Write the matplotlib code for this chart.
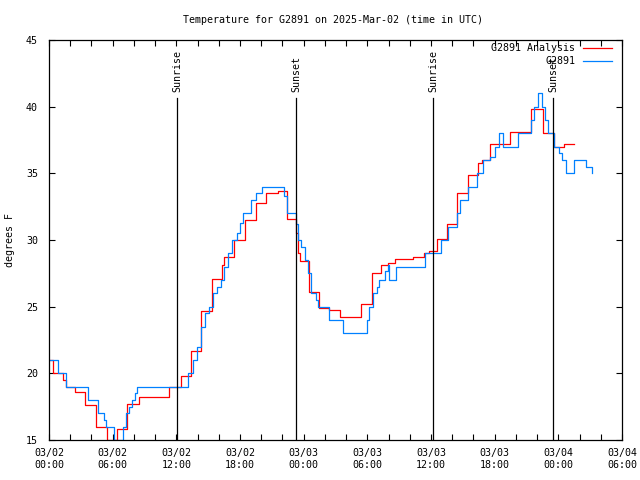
import matplotlib.pyplot as plt
from matplotlib.ticker import MultipleLocator

plt.rcParams['font.family'] = 'DejaVu Sans Mono'
plt.rcParams['font.size'] = 7.2

# hours since 03/02 00:00 UTC, temperature in F (values hold until the next time)
obs_hours = [0.0, 0.82, 1.6, 3.68, 4.65, 5.18, 5.37, 6.13, 6.97, 7.26, 7.54, 7.82, 8.1, 8.29,
             13.1, 13.57, 13.95, 14.33, 14.7, 15.08, 15.46, 15.83, 16.21, 16.49, 16.87, 17.25,
             17.72, 18.0, 18.28, 19.04, 19.5, 20.08, 22.15, 22.43, 23.28, 23.47, 23.75, 24.13,
             24.41, 24.69, 25.16, 25.35, 26.39, 27.71, 29.97, 30.16, 30.54, 30.91, 31.1, 31.67,
             31.95, 32.05, 32.7, 35.44, 36.95, 37.6, 38.45, 38.74, 39.5, 40.34, 40.6, 40.9,
             41.56, 42.04, 42.41, 42.79, 44.2, 45.43, 45.71, 46.09, 46.47, 46.75, 47.03, 47.6,
             48.07, 48.35, 48.73, 49.48, 50.6, 51.18]
obs_temp = [21, 20, 19, 18, 17, 16.5, 16, 15, 16, 17, 17.5, 18, 18.5, 19,
            20, 21, 22, 23.5, 24.5, 25, 26, 26.5, 27, 28, 29, 30,
            30.5, 31.3, 32, 33, 33.5, 34, 33.3, 32, 31.2, 30, 29.5, 28.5,
            27.5, 26, 25.5, 25, 24, 23, 24, 25, 26, 26.5, 27, 27.7,
            28.1, 27, 28, 29, 30, 31, 32, 33, 34, 35, 35, 36,
            36.2, 37, 38, 37, 38, 39, 40, 41, 40, 39, 38, 37,
            36.5, 36, 35, 36, 35.5, 35]

ana_hours = [0.0, 0.38, 1.32, 1.6, 2.45, 3.39, 4.43, 5.42, 6.41, 7.35, 8.48, 11.31, 12.44,
             13.38, 14.33, 15.36, 16.31, 16.49, 17.44, 18.47, 19.51, 20.45, 21.58, 22.43,
             23.28, 23.47, 23.66, 24.5, 25.45, 26.39, 27.43, 29.41, 30.44, 31.29, 31.95,
             32.61, 34.31, 35.34, 35.81, 36.57, 37.51, 38.45, 39.49, 40.43, 40.81, 41.56,
             43.45, 45.43, 46.56, 47.6, 48.54, 49.48]
ana_temp = [21, 20, 19.5, 19, 18.6, 17.6, 16, 15, 15.8, 17.7, 18.2, 19, 19.8,
            21.7, 24.7, 27.1, 28.1, 28.7, 30, 31.5, 32.8, 33.5, 33.7, 31.6,
            30.5, 29, 28.4, 26.1, 24.9, 24.75, 24.2, 25.2, 27.5, 28.1, 28.3,
            28.55, 28.75, 29.0, 29.2, 30.05, 31.2, 33.5, 34.9, 35.75, 36, 37.2,
            38.1, 39.8, 38.05, 37, 37.2, 37.2]

sun_hours = [12.06, 23.28, 36.19, 47.5]
sun_names = ['Sunrise', 'Sunset', 'Sunrise', 'Sunset']

tick_hours = [0, 6, 12, 18, 24, 30, 36, 42, 48, 54]
tick_labels = ['03/02\n00:00', '03/02\n06:00', '03/02\n12:00', '03/02\n18:00', '03/03\n00:00',
               '03/03\n06:00', '03/03\n12:00', '03/03\n18:00', '03/04\n00:00', '03/04\n06:00']

fig = plt.figure(figsize=(6.4, 4.8), dpi=100)
ax = fig.add_axes([49 / 640, 40 / 480, 573 / 640, 400 / 480])

ax.step(ana_hours, ana_temp, where='post', color='#ff0000', lw=0.9, label='G2891 Analysis')
ax.step(obs_hours, obs_temp, where='post', color='#0080ff', lw=0.9, label='G2891')

for h, name in zip(sun_hours, sun_names):
    ax.plot([h, h], [15, 40.65], color='black', lw=0.9)
    ax.text(h + 0.05, 41.1, name, rotation=90, ha='center', va='bottom')

ax.set_xlim(0, 54)
ax.set_ylim(15, 45)
ax.set_xticks(tick_hours)
ax.set_xticklabels(tick_labels)
ax.xaxis.set_minor_locator(MultipleLocator(2))
ax.set_yticks([15, 20, 25, 30, 35, 40, 45])
ax.tick_params(which='both', direction='in', top=True, right=True, length=4, width=0.8)
ax.tick_params(axis='x', pad=6)
ax.tick_params(axis='y', pad=8)
for s in ax.spines.values():
    s.set_linewidth(0.9)

fig.text(10 / 640, 0.5, 'degrees F', rotation=90, ha='center', va='center')
fig.text(333 / 640, 1 - 20 / 480, 'Temperature for G2891 on 2025-Mar-02 (time in UTC)',
         ha='center', va='center')

ax.legend(loc='upper right', bbox_to_anchor=(612 / 640, 1 - 43 / 480),
          bbox_transform=fig.transFigure, frameon=False, markerfirst=False,
          handlelength=2.9, handletextpad=0.8, labelspacing=0.3, borderpad=0,
          borderaxespad=0)

fig.savefig('out.png', dpi=100)
